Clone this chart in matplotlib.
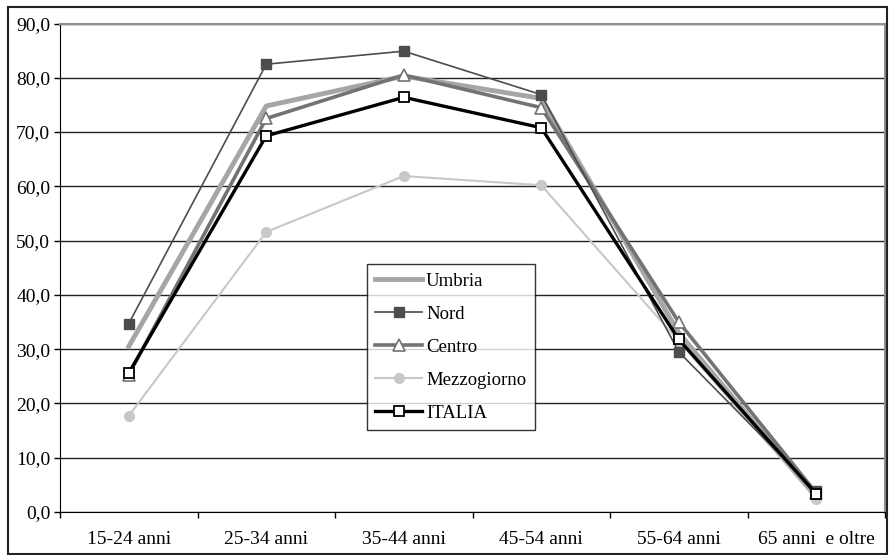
import matplotlib
matplotlib.use("Agg")
import matplotlib.pyplot as plt
from matplotlib.patches import Rectangle
from matplotlib.ticker import FuncFormatter, MultipleLocator, FixedLocator

plt.rcParams['font.family'] = ['Liberation Serif', 'DejaVu Serif']

categories = ["15-24 anni", "25-34 anni", "35-44 anni", "45-54 anni", "55-64 anni", "65 anni  e oltre"]
umbria = [30.5, 74.8, 80.3, 76.2, 33.0, 2.8]
nord = [34.7, 82.5, 84.9, 76.9, 29.5, 3.8]
centro = [25.3, 72.5, 80.5, 74.5, 35.0, 3.5]
mezzogiorno = [17.7, 51.6, 61.9, 60.2, 31.5, 2.4]
italia = [25.6, 69.3, 76.4, 70.8, 31.8, 3.3]

fig = plt.figure(figsize=(8.89, 5.55), dpi=100)
ax = fig.add_axes([60 / 889, 1 - 512 / 555, 825 / 889, (512 - 23.5) / 555])

x = list(range(len(categories)))

ax.plot(x, umbria, color="#a6a6a6", lw=3.5, label="Umbria", zorder=3)
ax.plot(x, nord, color="#4d4d4d", lw=1.2, marker="s", ms=7, mfc="#4d4d4d",
        mec="#4d4d4d", label="Nord", zorder=4)
ax.plot(x, centro, color="#737373", lw=2.6, marker="^", ms=8, mfc="white",
        mec="#737373", mew=1.2, label="Centro", zorder=3)
ax.plot(x, mezzogiorno, color="#c8c8c8", lw=1.5, marker="o", ms=7, mfc="#c8c8c8",
        mec="#c8c8c8", label="Mezzogiorno", zorder=2)
ax.plot(x, italia, color="black", lw=2.4, marker="s", ms=7, mfc="white",
        mec="black", mew=1.3, label="ITALIA", zorder=5)

ax.set_xlim(-0.5, len(categories) - 0.5)
ax.set_ylim(0, 90)
ax.yaxis.set_major_locator(MultipleLocator(10))
ax.yaxis.set_major_formatter(FuncFormatter(lambda v, p: f"{v:.1f}".replace(".", ",")))
ax.set_xticks(x)
ax.set_xticklabels(categories)
ax.xaxis.set_minor_locator(FixedLocator([i + 0.5 for i in range(-1, len(categories))]))
ax.tick_params(axis="x", which="major", length=0, pad=14, labelsize=14)
ax.tick_params(axis="x", which="minor", length=4, width=1, direction="out")
ax.tick_params(axis="y", length=4, width=1, direction="out", labelsize=14, pad=3)

ax.grid(axis="y", color="#222222", lw=1)
ax.set_axisbelow(True)
for side in ("top", "right"):
    ax.spines[side].set_color("#909090")
    ax.spines[side].set_linewidth(1.5)
ax.spines["left"].set_color("black")
ax.spines["bottom"].set_color("black")

leg = ax.legend(loc="upper left", bbox_to_anchor=((367 - 60) / 825, (512 - 264) / 488.5),
                frameon=True, fancybox=False, edgecolor="black", fontsize=13.5,
                handlelength=2.5, handletextpad=0.2, borderpad=0.45, labelspacing=0.85,
                borderaxespad=0)
leg.get_frame().set_linewidth(1)
leg.set_zorder(10)

fig.patches.append(Rectangle((8 / 889, 0.002), 879 / 889, 1 - 7 / 555 - 0.002,
                             transform=fig.transFigure, fill=False,
                             edgecolor="#222222", lw=1.5))

fig.savefig("out.png", dpi=100)
